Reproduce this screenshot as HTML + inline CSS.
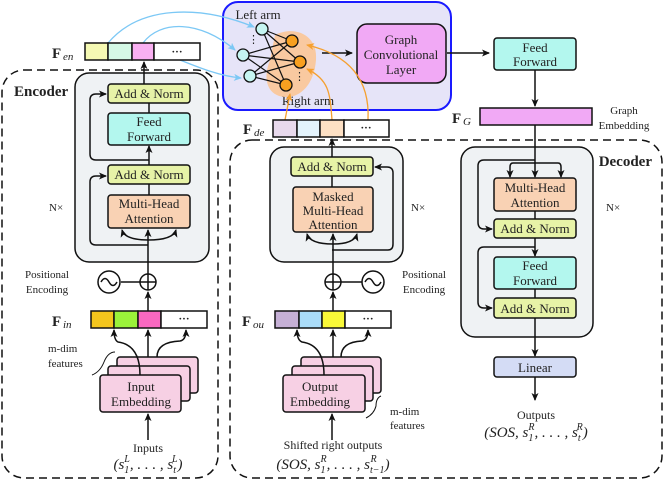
<!DOCTYPE html>
<html><head><meta charset="utf-8"><style>body{margin:0;background:#fff}svg{display:block}text{font-family:"Liberation Serif",serif;fill:#222}</style></head><body>
<svg width="664" height="481" viewBox="0 0 664 481" xmlns="http://www.w3.org/2000/svg">
<defs>
<marker id="a" markerWidth="8" markerHeight="8" refX="7" refY="4" orient="auto" markerUnits="userSpaceOnUse"><path d="M0,0.5 L8,4 L0,7.5 L2,4z" fill="#111"/></marker>
<marker id="b" markerWidth="8" markerHeight="8" refX="7" refY="4" orient="auto" markerUnits="userSpaceOnUse"><path d="M0,0.5 L8,4 L0,7.5 L2,4z" fill="#7cc8f5"/></marker>
<marker id="o" markerWidth="8" markerHeight="8" refX="7" refY="4" orient="auto" markerUnits="userSpaceOnUse"><path d="M0,0.5 L8,4 L0,7.5 L2,4z" fill="#f5a030"/></marker>
</defs>
<g fill="none" stroke="#111" stroke-width="1.5" stroke-dasharray="8,5">
<rect x="2" y="70" width="216" height="408" rx="22"/>
<rect x="230" y="140" width="432" height="338" rx="22"/>
</g>
<!-- graph box -->
<rect x="223" y="2" width="228" height="108" rx="15" fill="#e6e4f8" stroke="#1a1aff" stroke-width="2"/>
<text x="258" y="19" font-size="13" text-anchor="middle">Left arm</text>
<text x="308" y="105" font-size="13" text-anchor="middle">Right arm</text>
<path d="M275,35 C295,25 318,35 316,60 C314,85 300,98 285,97 C268,96 262,80 270,60 Z" fill="#f9c9a0"/>
<g stroke="#111" stroke-width="1.2">
<line x1="262" y1="29" x2="292" y2="41"/><line x1="262" y1="29" x2="300" y2="62"/><line x1="262" y1="29" x2="286" y2="85"/>
<line x1="243" y1="55" x2="292" y2="41"/><line x1="243" y1="55" x2="300" y2="62"/><line x1="243" y1="55" x2="286" y2="85"/>
<line x1="250" y1="76" x2="292" y2="41"/><line x1="250" y1="76" x2="300" y2="62"/><line x1="250" y1="76" x2="286" y2="85"/>
</g>
<g stroke="#111" stroke-width="1.3">
<circle cx="262" cy="29" r="6" fill="#c6f5f2"/><circle cx="243" cy="55" r="6" fill="#c6f5f2"/><circle cx="250" cy="76" r="6" fill="#c6f5f2"/>
<circle cx="292" cy="41" r="6" fill="#f8a020"/><circle cx="300" cy="62" r="6" fill="#f8a020"/><circle cx="286" cy="85" r="6" fill="#f8a020"/>
</g>
<text x="248" y="43" font-size="11">⋮</text><text x="294" y="80" font-size="11">⋮</text>
<line x1="322" y1="53" x2="352" y2="53" stroke="#111" stroke-width="1.5" marker-end="url(#a)"/>
<rect x="357" y="24" width="89" height="59" rx="10" fill="#f1a9f5" stroke="#111" stroke-width="1.5"/>
<text x="401" y="44" font-size="13" text-anchor="middle">Graph</text>
<text x="401" y="59" font-size="13" text-anchor="middle">Convolutional</text>
<text x="401" y="74" font-size="13" text-anchor="middle">Layer</text>
<line x1="447" y1="53" x2="489" y2="53" stroke="#111" stroke-width="1.5" marker-end="url(#a)"/>
<g fill="none" stroke="#7cc8f5" stroke-width="1.3">
<path d="M108,43 C140,5 200,5 254,27" marker-end="url(#b)"/>
<path d="M143,43 C160,20 200,20 235,50" marker-end="url(#b)"/>
<path d="M180,60 C200,68 220,76 241,78" marker-end="url(#b)"/>
</g>
<g fill="none" stroke="#f5a030" stroke-width="1.3">
<path d="M285,120 L290,94" marker-end="url(#o)"/>
<path d="M332,120 C330,95 330,80 307,69" marker-end="url(#o)"/>
<path d="M368,120 C370,80 350,55 307,45" marker-end="url(#o)"/>
</g>
<!-- F_en -->
<text x="52" y="58" font-size="15" font-weight="bold">F</text><text x="63" y="60" font-size="11" font-style="italic">en</text>
<g stroke="#111" stroke-width="1.5">
<rect x="85" y="43" width="23" height="17" fill="#f5f9b3"/><rect x="108" y="43" width="24" height="17" fill="#d5f9e6"/><rect x="132" y="43" width="22" height="17" fill="#f9b0f2"/><rect x="154" y="43" width="46" height="17" fill="#fff"/>
</g><text x="177" y="55" font-size="11" text-anchor="middle" font-weight="bold">···</text>
<!-- encoder -->
<text x="14" y="96" font-size="15" font-weight="bold">Encoder</text>
<rect x="75" y="73" width="134" height="189" rx="14" fill="#eff2f4" stroke="#111" stroke-width="1.5"/>
<g stroke="#111" stroke-width="1.5" fill="none">
<line x1="144" y1="84" x2="144" y2="62" marker-end="url(#a)"/>
<line x1="149" y1="103" x2="149" y2="113"/>
<line x1="149" y1="165" x2="149" y2="146" marker-end="url(#a)"/>
<path d="M149,160 H96 Q90,160 90,154 V100 Q90,94 96,94 H106" marker-end="url(#a)"/>
<line x1="149" y1="184" x2="149" y2="195"/>
<path d="M148,245 H96 Q90,245 90,239 V182 Q90,176 96,176 H106" marker-end="url(#a)"/>
<line x1="148" y1="274" x2="148" y2="230" marker-end="url(#a)"/>
<path d="M148,240 Q125,240 122,230" marker-end="url(#a)"/>
<path d="M148,240 Q173,240 176,230" marker-end="url(#a)"/>
</g>
<g stroke="#111" stroke-width="1.5">
<rect x="108" y="84" width="82" height="19" rx="3" fill="#e7f3a7"/>
<rect x="108" y="113" width="82" height="32" rx="3" fill="#b3f7ee"/>
<rect x="108" y="165" width="82" height="19" rx="3" fill="#e7f3a7"/>
<rect x="108" y="195" width="82" height="33" rx="3" fill="#f9d2b4"/>
</g>
<text x="149" y="98" font-size="13" text-anchor="middle">Add &amp; Norm</text>
<text x="149" y="126" font-size="13" text-anchor="middle">Feed</text><text x="149" y="141" font-size="13" text-anchor="middle">Forward</text>
<text x="149" y="179" font-size="13" text-anchor="middle">Add &amp; Norm</text>
<text x="149" y="208" font-size="13" text-anchor="middle">Multi-Head</text><text x="149" y="223" font-size="13" text-anchor="middle">Attention</text>
<text x="49" y="211" font-size="11">N×</text>
<text x="47" y="278" font-size="11" text-anchor="middle">Positional</text><text x="47" y="293" font-size="11" text-anchor="middle">Encoding</text>
<g stroke="#111" stroke-width="1.5" fill="#fff">
<line x1="121" y1="282" x2="141" y2="282"/>
<circle cx="109" cy="282" r="11"/><circle cx="148" cy="282" r="8"/>
<line x1="140" y1="282" x2="156" y2="282"/><line x1="148" y1="274" x2="148" y2="290"/>
<path d="M101,282 Q105,275 109,282 Q113,289 117,282" fill="none"/>
<line x1="148" y1="311" x2="148" y2="292" marker-end="url(#a)"/>
</g>
<text x="52" y="326" font-size="15" font-weight="bold">F</text><text x="63" y="328" font-size="11" font-style="italic">in</text>
<g stroke="#111" stroke-width="1.5">
<rect x="91" y="311" width="23" height="17" fill="#f3c51d"/><rect x="114" y="311" width="24" height="17" fill="#9bf23a"/><rect x="138" y="311" width="23" height="17" fill="#f968c0"/><rect x="161" y="311" width="46" height="17" fill="#fff"/>
</g><text x="184" y="322" font-size="11" text-anchor="middle" font-weight="bold">···</text>
<g stroke="#111" stroke-width="1.5" fill="#f7d0e4">
<rect x="117" y="357" width="81" height="36" rx="3"/><rect x="108" y="366" width="82" height="35" rx="3"/><rect x="100" y="375" width="81" height="37" rx="3"/>
</g>
<text x="141" y="391" font-size="13" text-anchor="middle">Input</text><text x="141" y="406" font-size="13" text-anchor="middle">Embedding</text>
<g stroke="#111" stroke-width="1.5" fill="none">
<path d="M140,375 Q140,345 118,342 Q114,340 114,330" marker-end="url(#a)"/>
<line x1="148" y1="357" x2="148" y2="330" marker-end="url(#a)"/>
<path d="M157,357 Q157,342 180,341 Q186,340 186,330" marker-end="url(#a)"/>
<line x1="148" y1="440" x2="148" y2="414" marker-end="url(#a)"/>
<path d="M115,352 Q108,352 104,362 Q100,372 92,375" stroke-width="1"/>
</g>
<text x="48" y="352" font-size="11">m-dim</text><text x="48" y="367" font-size="11">features</text>
<text x="148" y="452" font-size="12" text-anchor="middle">Inputs</text>
<text x="148" y="469" font-size="15" text-anchor="middle" font-style="italic">(s<tspan font-size="10" dy="4">1</tspan><tspan font-size="10" dx="-5" dy="-11">L</tspan><tspan dy="7">, . . . , s</tspan><tspan font-size="10" dy="4">t</tspan><tspan font-size="10" dx="-4" dy="-11">L</tspan><tspan dy="7">)</tspan></text>
<!-- F_de -->
<text x="243" y="134" font-size="15" font-weight="bold">F</text><text x="254" y="136" font-size="11" font-style="italic">de</text>
<g stroke="#111" stroke-width="1.5">
<rect x="273" y="120" width="24" height="17" fill="#e8d9ec"/><rect x="297" y="120" width="23" height="17" fill="#e3f3fc"/><rect x="320" y="120" width="24" height="17" fill="#fde0c4"/><rect x="344" y="120" width="45" height="17" fill="#fff"/>
</g><text x="366" y="131" font-size="11" text-anchor="middle" font-weight="bold">···</text>
<text x="652" y="166" font-size="15" font-weight="bold" text-anchor="end">Decoder</text>
<rect x="270" y="147" width="133" height="115" rx="14" fill="#eff2f4" stroke="#111" stroke-width="1.5"/>
<g stroke="#111" stroke-width="1.5" fill="none">
<line x1="332" y1="157" x2="332" y2="139" marker-end="url(#a)"/>
<line x1="332" y1="176" x2="332" y2="187"/>
<path d="M332,250 H388 Q393,250 393,244 V173 Q393,167 387,167 H375" marker-end="url(#a)"/>
<line x1="333" y1="274" x2="333" y2="234" marker-end="url(#a)"/>
<path d="M333,244 Q310,244 307,234" marker-end="url(#a)"/>
<path d="M333,244 Q354,244 357,234" marker-end="url(#a)"/>
</g>
<g stroke="#111" stroke-width="1.5">
<rect x="291" y="157" width="82" height="19" rx="3" fill="#e7f3a7"/>
<rect x="293" y="187" width="80" height="45" rx="3" fill="#f9d2b4"/>
</g>
<text x="332" y="171" font-size="13" text-anchor="middle">Add &amp; Norm</text>
<text x="333" y="201" font-size="13" text-anchor="middle">Masked</text><text x="333" y="215" font-size="13" text-anchor="middle">Multi-Head</text><text x="333" y="229" font-size="13" text-anchor="middle">Attention</text>
<text x="411" y="211" font-size="11">N×</text>
<text x="424" y="278" font-size="11" text-anchor="middle">Positional</text><text x="424" y="293" font-size="11" text-anchor="middle">Encoding</text>
<g stroke="#111" stroke-width="1.5" fill="#fff">
<line x1="340" y1="282" x2="362" y2="282"/>
<circle cx="373" cy="282" r="11"/><circle cx="333" cy="282" r="8"/>
<line x1="325" y1="282" x2="341" y2="282"/><line x1="333" y1="274" x2="333" y2="290"/>
<path d="M365,282 Q369,275 373,282 Q377,289 381,282" fill="none"/>
<line x1="333" y1="311" x2="333" y2="292" marker-end="url(#a)"/>
</g>
<text x="242" y="326" font-size="15" font-weight="bold">F</text><text x="253" y="328" font-size="11" font-style="italic">ou</text>
<g stroke="#111" stroke-width="1.5">
<rect x="275" y="311" width="24" height="17" fill="#c6b0d6"/><rect x="299" y="311" width="23" height="17" fill="#aadcf8"/><rect x="322" y="311" width="23" height="17" fill="#f9f938"/><rect x="345" y="311" width="46" height="17" fill="#fff"/>
</g><text x="368" y="322" font-size="11" text-anchor="middle" font-weight="bold">···</text>
<g stroke="#111" stroke-width="1.5" fill="#f7d0e4">
<rect x="301" y="357" width="80" height="36" rx="3"/><rect x="292" y="366" width="81" height="35" rx="3"/><rect x="283" y="375" width="82" height="37" rx="3"/>
</g>
<text x="320" y="391" font-size="13" text-anchor="middle">Output</text><text x="320" y="406" font-size="13" text-anchor="middle">Embedding</text>
<g stroke="#111" stroke-width="1.5" fill="none">
<path d="M324,375 Q324,345 302,342 Q297,340 297,330" marker-end="url(#a)"/>
<line x1="333" y1="357" x2="333" y2="330" marker-end="url(#a)"/>
<path d="M341,357 Q341,342 362,341 Q368,340 368,330" marker-end="url(#a)"/>
<line x1="332" y1="440" x2="332" y2="414" marker-end="url(#a)"/>
<path d="M381,396 Q376,398 376,406 Q374,414 366,418" stroke-width="1"/>
</g>
<text x="390" y="415" font-size="11">m-dim</text><text x="390" y="429" font-size="11">features</text>
<text x="333" y="449" font-size="12" text-anchor="middle">Shifted right outputs</text>
<text x="333" y="469" font-size="15" text-anchor="middle" font-style="italic">(SOS, s<tspan font-size="10" dy="4">1</tspan><tspan font-size="10" dx="-5" dy="-11">R</tspan><tspan dy="7">, . . . , s</tspan><tspan font-size="10" dy="4">t−1</tspan><tspan font-size="10" dx="-14" dy="-11">R</tspan><tspan dx="8" dy="7">)</tspan></text>
<!-- right column -->
<rect x="494" y="38" width="82" height="32" rx="3" fill="#b3f7ee" stroke="#111" stroke-width="1.5"/>
<text x="535" y="52" font-size="13" text-anchor="middle">Feed</text><text x="535" y="66" font-size="13" text-anchor="middle">Forward</text>
<line x1="535" y1="70" x2="535" y2="106" stroke="#111" stroke-width="1.5" marker-end="url(#a)"/>
<rect x="480" y="108" width="112" height="17" fill="#f1a9f5" stroke="#111" stroke-width="1.5"/>
<text x="452" y="123" font-size="15" font-weight="bold">F</text><text x="463" y="125" font-size="11" font-style="italic">G</text>
<text x="624" y="114" font-size="11" text-anchor="middle">Graph</text><text x="624" y="129" font-size="11" text-anchor="middle">Embedding</text>
<rect x="461" y="147" width="132" height="190" rx="14" fill="#eff2f4" stroke="#111" stroke-width="1.5"/>
<g stroke="#111" stroke-width="1.5" fill="none">
<line x1="535" y1="125" x2="535" y2="177" marker-end="url(#a)"/>
<path d="M535,163 H513 Q510,163 510,167 V177" marker-end="url(#a)"/>
<path d="M535,163 H558 Q561,163 561,167 V177" marker-end="url(#a)"/>
<path d="M535,160 H484 Q478,160 478,166 V222 Q478,229 484,229 H492" marker-end="url(#a)"/>
<line x1="535" y1="211" x2="535" y2="219"/>
<line x1="535" y1="238" x2="535" y2="256" marker-end="url(#a)"/>
<path d="M535,247 H484 Q478,247 478,253 V302 Q478,308 484,308 H492" marker-end="url(#a)"/>
<line x1="535" y1="289" x2="535" y2="298"/>
<line x1="535" y1="318" x2="535" y2="356" marker-end="url(#a)"/>
<line x1="535" y1="377" x2="535" y2="400" marker-end="url(#a)"/>
</g>
<g stroke="#111" stroke-width="1.5">
<rect x="494" y="178" width="82" height="33" rx="3" fill="#f9d2b4"/>
<rect x="494" y="219" width="82" height="19" rx="3" fill="#e7f3a7"/>
<rect x="494" y="257" width="82" height="32" rx="3" fill="#b3f7ee"/>
<rect x="494" y="298" width="82" height="20" rx="3" fill="#e7f3a7"/>
<rect x="494" y="357" width="82" height="20" rx="3" fill="#d4dcf5"/>
</g>
<text x="535" y="192" font-size="13" text-anchor="middle">Multi-Head</text><text x="535" y="207" font-size="13" text-anchor="middle">Attention</text>
<text x="535" y="233" font-size="13" text-anchor="middle">Add &amp; Norm</text>
<text x="535" y="270" font-size="13" text-anchor="middle">Feed</text><text x="535" y="285" font-size="13" text-anchor="middle">Forward</text>
<text x="535" y="313" font-size="13" text-anchor="middle">Add &amp; Norm</text>
<text x="535" y="372" font-size="13" text-anchor="middle">Linear</text>
<text x="606" y="211" font-size="11">N×</text>
<text x="536" y="419" font-size="12" text-anchor="middle">Outputs</text>
<text x="536" y="437" font-size="15" text-anchor="middle" font-style="italic">(SOS, s<tspan font-size="10" dy="4">1</tspan><tspan font-size="10" dx="-5" dy="-11">R</tspan><tspan dy="7">, . . . , s</tspan><tspan font-size="10" dy="4">t</tspan><tspan font-size="10" dx="-4" dy="-11">R</tspan><tspan dy="7">)</tspan></text>
</svg>
</body></html>
